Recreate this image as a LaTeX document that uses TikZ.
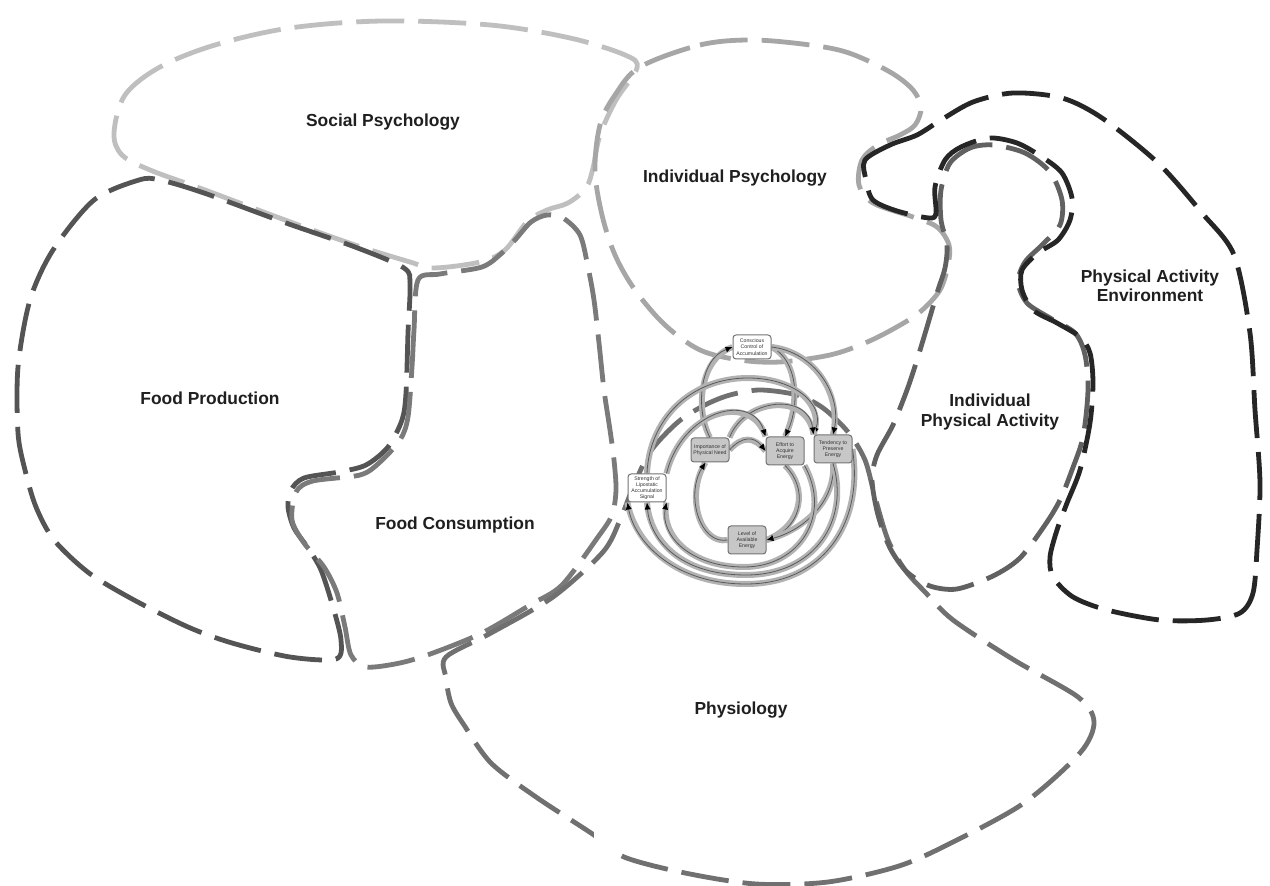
\documentclass[tikz,border=0pt]{standalone}
\usepackage{fontspec}
\setmainfont{Liberation Sans}
\usetikzlibrary{arrows.meta}
\pgfdeclarelayer{bg}
\pgfdeclarelayer{mid}
\pgfsetlayers{bg,mid,main}
\begin{document}
\begin{tikzpicture}[x=0.5pt,y=-0.5pt,
  region/.style={line width=2.4pt, dash pattern=on 24pt off 7pt, line cap=butt},
  lbl/.style={font=\fontsize{8.7}{9.6}\selectfont\bfseries, text=black!88, align=center},
  eng/.style={draw=black!55, rounded corners=1.5pt, line width=0.5pt, minimum width=19pt, minimum height=12pt, inner sep=0.5pt, align=center, font=\fontsize{2.6}{3.1}\selectfont, text=black!80},
  gbox/.style={eng, fill=black!22},
  wbox/.style={eng, fill=white},
  band/.style={draw=black!65, line width=0.4pt, preaction={draw=black!30, line width=3pt, arrows=-}},
  arr/.style={band, -{Latex[length=3.5pt,width=3pt,color=black]}},
]
\useasboundingbox (0,0) rectangle (1270,886);

% engine nodes
\node[wbox] (cc) at (752,347) {Conscious\\Control of\\Accumulation};
\node[gbox] (imp) at (710,450) {Importance of\\Physical Need};
\node[gbox, minimum height=14pt] (eff) at (785,451) {Effort to\\Acquire\\Energy};
\node[gbox, minimum height=14pt] (ten) at (833,449) {Tendency to\\Preserve\\Energy};
\node[wbox, minimum height=14pt] (str) at (647,488) {Strength of\\Lipostatic\\Accumulation\\Signal};
\node[gbox, minimum height=14pt] (lev) at (747,540) {Level of\\Available\\Energy};

% region labels
\node[lbl] (lsp) at (383,122) {Social Psychology};
\node[lbl] (lip) at (735,178) {Individual Psychology};
\node[lbl] (lfp) at (210,398) {Food Production};
\node[lbl] (lfc) at (455,525) {Food Consumption};
\node[lbl] (lph) at (741,710) {Physiology};
\node[lbl] (lipa) at (990,412) {Individual\\Physical Activity};
\node[lbl] (lpae) at (1150,286) {Physical Activity\\Environment};

\begin{pgfonlayer}{bg}
\fill[white] (0,0) rectangle (1270,886);

% Social Psychology
\draw[region, black!25] plot[smooth cycle, tension=0.55] coordinates {
 (114,133) (125,95) (160,67) (215,45) (290,28) (383,21) (490,25) (570,38) (625,55) (637,68)
 (616,100) (600,135) (593,168) (586,188) (568,203) (547,210) (527,222) (505,250) (480,262)
 (433,268) (410,262) (355,245) (285,220) (205,190) (150,170) (122,155)};

% Individual Psychology
\draw[region, black!35] plot[smooth cycle, tension=0.55] coordinates {
 (640,67) (700,45) (752,40) (810,45) (849,53) (890,72) (913,90) (921,108) (915,125) (900,135)
 (878,145) (862,160) (859,185) (873,203) (913,217) (937,227) (949,245) (948,265) (940,290)
 (920,312) (895,328) (865,343) (830,355) (780,362) (740,360) (700,350) (665,325) (635,290)
 (615,255) (602,215) (595,170) (600,125) (615,95)};

% Food Production
\draw[region, black!67] plot[smooth cycle, tension=0.5] coordinates {
 (139,180) (94,200) (53,250) (30,300) (18,367) (18,433) (25,470) (36,507) (54,540) (89,573)
 (134,600) (188,627) (232,643) (290,657) (336,659) (341,640) (333,607) (321,570) (308,548)
 (294,528) (288,507) (291,490) (304,478) (339,472) (366,465) (388,447) (402,420) (406,393)
 (408,333) (410,285) (404,268) (355,247) (286,223) (204,193) (160,180)};

% Food Consumption
\draw[region, black!52] plot[smooth cycle, tension=0.5] coordinates {
 (418,280) (414,330) (412,367) (408,417) (400,440) (379,463) (360,475) (313,481) (296,492)
 (292,520) (304,543) (324,567) (337,593) (345,627) (351,655) (366,667) (400,663) (433,653)
 (482,633) (530,605) (562,585) (598,537) (612,515) (616,490) (614,460) (610,430) (604,390)
 (599,343) (594,300) (588,267) (580,235) (563,218) (547,215) (531,222) (515,240) (502,253)
 (482,267) (440,274)};

% Physiology
\draw[region, black!56] plot[smooth cycle, tension=0.5] coordinates {
 (446,657) (491,633) (553,597) (603,552) (620,520) (632,490) (650,452) (678,422) (705,405)
 (730,395) (760,390) (797,395) (823,408) (848,432) (865,460) (875,497) (888,540) (905,570)
 (925,592) (953,620) (1014,660) (1078,697) (1094,722) (1080,753) (1024,803) (953,842)
 (899,866) (828,882) (756,884) (685,873) (624,857) (594,835) (536,797) (491,763) (464,725)
 (451,703) (446,678)};

% Individual Physical Activity
\draw[region, black!62] plot[smooth cycle, tension=0.5] coordinates {
 (941,190) (950,163) (970,148) (993,145) (1025,153) (1050,172) (1062,200) (1060,225)
 (1042,245) (1025,262) (1018,282) (1027,303) (1050,318) (1075,333) (1085,355) (1088,390)
 (1083,437) (1072,470) (1060,500) (1045,525) (1020,558) (993,576) (957,589) (930,586)
 (907,572) (890,548) (878,515) (872,480) (877,455) (893,425) (907,390) (917,360) (927,327)
 (937,293) (945,268) (947,245) (941,220)};

% Physical Activity Environment
\draw[region, black!85] plot[smooth cycle, tension=0.5] coordinates {
 (865,160) (890,145) (917,135) (941,120) (973,102) (1013,93) (1062,98) (1102,118) (1158,163)
 (1202,213) (1234,255) (1250,333) (1255,410) (1260,483) (1257,550) (1253,593) (1240,613)
 (1207,620) (1160,620) (1107,610) (1073,597) (1053,577) (1050,557) (1057,530) (1067,503)
 (1080,470) (1090,423) (1093,383) (1090,353) (1080,337) (1057,323) (1033,310) (1022,290)
 (1022,270) (1038,253) (1058,240) (1070,220) (1072,198) (1062,173) (1042,157) (1017,143)
 (989,138) (961,147) (945,160) (935,187) (936,213) (929,218) (897,211) (873,200) (866,180)};

% occluding patch
\fill[white] (594,826) rectangle (690,851);
\end{pgfonlayer}

% engine connectors
\begin{pgfonlayer}{mid}
% top circle
\draw[arr] (imp.north) .. controls (696,412) and (698,360) .. (cc.west);
\draw[arr] (cc.east) .. controls (798,360) and (800,405) .. (eff.north);
\draw[arr] (cc.east) .. controls (815,352) and (842,395) .. (ten.north);
% outer ring tops
\draw[arr] (str.north) .. controls (649,420) and (690,378) .. (748,378) .. controls (795,378) and (825,405) .. (ten.north west);
\draw[arr] (imp.north east) .. controls (745,398) and (808,392) .. (ten.north west);
\draw[arr] (str.north east) .. controls (682,410) and (752,392) .. (eff.north west);
% inner circle
\draw[arr] (imp.east) .. controls (742,436) and (754,436) .. (eff.west);
\draw[arr] (eff.south) .. controls (808,488) and (803,525) .. (lev.east);
\draw[arr] (ten.south) .. controls (836,500) and (805,530) .. (lev.east);
\draw[arr] (lev.west) .. controls (700,545) and (685,495) .. (imp.250);
% outer ring bottoms
\draw[arr] (eff.south east) .. controls (832,515) and (800,567) .. (744,567) .. controls (690,567) and (660,535) .. (str.south east);
\draw[arr] (ten.south) .. controls (850,520) and (815,575) .. (746,575) .. controls (680,575) and (650,540) .. (str.south);
\draw[arr] (ten.east) .. controls (864,525) and (822,584) .. (746,584) .. controls (672,584) and (634,540) .. (str.south west);
\end{pgfonlayer}
\end{tikzpicture}
\end{document}
